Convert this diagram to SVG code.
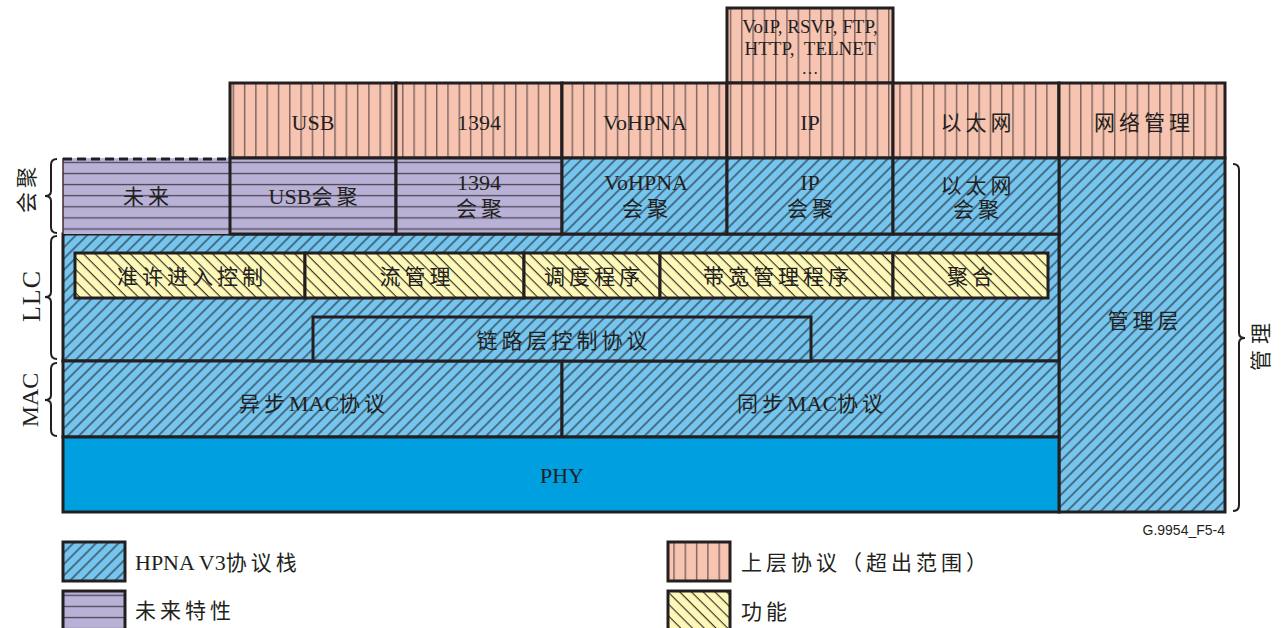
<svg xmlns="http://www.w3.org/2000/svg" width="1287" height="628" viewBox="0 0 1287 628">
<style>
.b{stroke:#231f20;stroke-width:3;}
.br{stroke:#231f20;stroke-width:2;fill:none;}
text{font-family:"Liberation Serif","Noto Sans CJK SC",serif;font-size:22px;fill:#231f20;text-anchor:middle;}
.cj{font-size:21px;letter-spacing:4px;}
.sm{font-size:19px;}
.lg{text-anchor:start;}
.id{font-family:"Liberation Sans",sans-serif;font-size:14px;text-anchor:end;}
</style>
<defs>
<pattern id="pBlue" patternUnits="userSpaceOnUse" width="8" height="8" patternTransform="rotate(45)">
<rect width="8" height="8" fill="#76c5ef"/><line x1="4" y1="0" x2="4" y2="8" stroke="#1e2830" stroke-width="1.1"/>
</pattern>
<pattern id="pYellow" patternUnits="userSpaceOnUse" width="8.3" height="8.3" patternTransform="rotate(-45)">
<rect width="8.3" height="8.3" fill="#fff9b9"/><line x1="4" y1="0" x2="4" y2="8.3" stroke="#2a2824" stroke-width="1.1"/>
</pattern>
<pattern id="pPink" patternUnits="userSpaceOnUse" width="11.3" height="10">
<rect width="11.3" height="10" fill="#f6c4b1"/><line x1="7.3" y1="0" x2="7.3" y2="10" stroke="#7a625c" stroke-width="1.4"/>
</pattern>
<pattern id="pPurple" patternUnits="userSpaceOnUse" width="10" height="11.1">
<rect width="10" height="11.1" fill="#b9b1d6"/><line x1="0" y1="7" x2="10" y2="7" stroke="#4d4a58" stroke-width="1.3"/>
</pattern>
</defs>
<rect width="1287" height="628" fill="#ffffff"/>

<!-- upper-layer protocols -->
<g id="apps">
<rect class="b" x="727" y="8" width="166" height="75" fill="url(#pPink)"/>
<text class="sm" x="810" y="33">VoIP, RSVP, FTP,</text>
<text class="sm" x="810" y="55">HTTP,&#160; TELNET</text>
<text x="810" y="74" style="font-size:17px">…</text>
</g>
<g id="usb"><rect class="b" x="230" y="83" width="166" height="75" fill="url(#pPink)"/><text x="313" y="130">USB</text></g>
<g id="ieee1394"><rect class="b" x="396" y="83" width="166" height="75" fill="url(#pPink)"/><text x="479" y="130">1394</text></g>
<g id="vohpna"><rect class="b" x="562" y="83" width="165" height="75" fill="url(#pPink)"/><text x="645" y="130">VoHPNA</text></g>
<g id="ip"><rect class="b" x="727" y="83" width="166" height="75" fill="url(#pPink)"/><text x="810" y="130">IP</text></g>
<g id="ethernet"><rect class="b" x="893" y="83" width="166" height="75" fill="url(#pPink)"/><text class="cj" x="978" y="130">以太网</text></g>
<g id="netmgmt"><rect class="b" x="1059" y="83" width="166" height="75" fill="url(#pPink)"/><text class="cj" x="1144" y="130">网络管理</text></g>

<!-- management layer -->
<g id="mgmt-layer">
<rect x="1059" y="158" width="166" height="354" fill="url(#pBlue)" stroke="#231f20" stroke-width="3"/>
<text class="cj" x="1145" y="328">管理层</text>
</g>

<!-- LLC, MAC, PHY -->
<g id="llc">
<rect class="b" x="63" y="234" width="996" height="127" fill="url(#pBlue)"/>
</g>
<g id="mac-async"><rect class="b" x="63" y="361" width="499" height="76" fill="url(#pBlue)"/><text x="314" y="411"><tspan class="cj">异步</tspan>MAC<tspan class="cj">协议</tspan></text></g>
<g id="mac-sync"><rect class="b" x="562" y="361" width="497" height="76" fill="url(#pBlue)"/><text x="812" y="411"><tspan class="cj">同步</tspan>MAC<tspan class="cj">协议</tspan></text></g>
<g id="phy"><rect class="b" x="63" y="437" width="996" height="75" fill="#009fe0"/><text x="562" y="483">PHY</text></g>

<!-- convergence row -->
<g id="future-conv">
<rect x="63" y="158" width="167" height="76" fill="url(#pPurple)"/>
<line x1="63" y1="158" x2="63" y2="234" stroke="#4a2a2a" stroke-width="1.5"/>
<line x1="63" y1="159" x2="230" y2="159" stroke="#231f20" stroke-width="3" stroke-dasharray="9,5"/>
<text class="cj" x="148" y="204">未来</text>
</g>
<g id="usb-conv"><rect class="b" x="230" y="158" width="166" height="76" fill="url(#pPurple)"/><text x="315" y="204">USB<tspan class="cj">会聚</tspan></text></g>
<g id="ieee1394-conv"><rect class="b" x="396" y="158" width="166" height="76" fill="url(#pPurple)"/><text x="479" y="190">1394</text><text class="cj" x="481" y="216">会聚</text></g>
<g id="vohpna-conv"><rect class="b" x="562" y="158" width="165" height="76" fill="url(#pBlue)"/><text x="646" y="190">VoHPNA</text><text class="cj" x="647" y="216">会聚</text></g>
<g id="ip-conv"><rect class="b" x="727" y="158" width="166" height="76" fill="url(#pBlue)"/><text x="810" y="190">IP</text><text class="cj" x="812" y="216">会聚</text></g>
<g id="ethernet-conv"><rect class="b" x="893" y="158" width="166" height="76" fill="url(#pBlue)"/><text class="cj" x="978" y="193">以太网</text><text class="cj" x="978" y="217">会聚</text></g>

<!-- LLC functions -->
<g id="admission"><rect class="b" x="75" y="253" width="230" height="45" fill="url(#pYellow)"/><text class="cj" x="192" y="284">准许进入控制</text></g>
<g id="flow-mgmt"><rect class="b" x="305" y="253" width="219" height="45" fill="url(#pYellow)"/><text class="cj" x="417" y="284">流管理</text></g>
<g id="scheduler"><rect class="b" x="524" y="253" width="136" height="45" fill="url(#pYellow)"/><text class="cj" x="594" y="284">调度程序</text></g>
<g id="bw-mgmt"><rect class="b" x="660" y="253" width="233" height="45" fill="url(#pYellow)"/><text class="cj" x="778" y="284">带宽管理程序</text></g>
<g id="aggregation"><rect class="b" x="893" y="253" width="155" height="45" fill="url(#pYellow)"/><text class="cj" x="972" y="284">聚合</text></g>
<g id="link-ctrl"><rect class="b" x="313" y="317" width="498" height="44" fill="url(#pBlue)"/><text class="cj" x="564" y="348">链路层控制协议</text></g>

<!-- braces -->
<g id="braces">
<path class="br" d="M57,159 Q51,159 51,165 L51,191 Q51,196 45,196 Q51,196 51,201 L51,227 Q51,233 57,233"/>
<path class="br" d="M57,236 Q51,236 51,242 L51,292 Q51,297 45,297 Q51,297 51,302 L51,353 Q51,359 57,359"/>
<path class="br" d="M57,363 Q51,363 51,369 L51,395 Q51,400 45,400 Q51,400 51,405 L51,430 Q51,436 57,436"/>
<path class="br" d="M1233,164 Q1239,164 1239,170 L1239,333 Q1239,338 1245,338 Q1239,338 1239,343 L1239,505 Q1239,511 1233,511"/>
</g>

<!-- side labels -->
<g id="side-labels">
<text class="cj" transform="translate(27,188) rotate(-90)" dominant-baseline="central">会聚</text>
<text style="font-size:26px;letter-spacing:1px" transform="translate(31,296) rotate(-90)" dominant-baseline="central">LLC</text>
<text style="font-size:24px" transform="translate(30,400) rotate(-90)" dominant-baseline="central">MAC</text>
<text class="cj" style="letter-spacing:6px" transform="translate(1261,344) rotate(-90)" dominant-baseline="central">管理</text>
</g>

<text class="id" x="1225" y="535">G.9954_F5-4</text>

<!-- legend -->
<g id="legend">
<rect class="b" x="63" y="542" width="62" height="39" fill="url(#pBlue)"/>
<text class="lg" x="135" y="570">HPNA V3<tspan class="cj">协议栈</tspan></text>
<rect class="b" x="63" y="591" width="62" height="39" fill="url(#pPurple)"/>
<text class="lg cj" x="135" y="618">未来特性</text>
<rect class="b" x="668" y="542" width="62" height="39" fill="url(#pPink)"/>
<text class="lg cj" x="741" y="570">上层协议（超出范围）</text>
<rect class="b" x="668" y="591" width="62" height="39" fill="url(#pYellow)"/>
<text class="lg cj" x="741" y="619">功能</text>
</g>
</svg>
